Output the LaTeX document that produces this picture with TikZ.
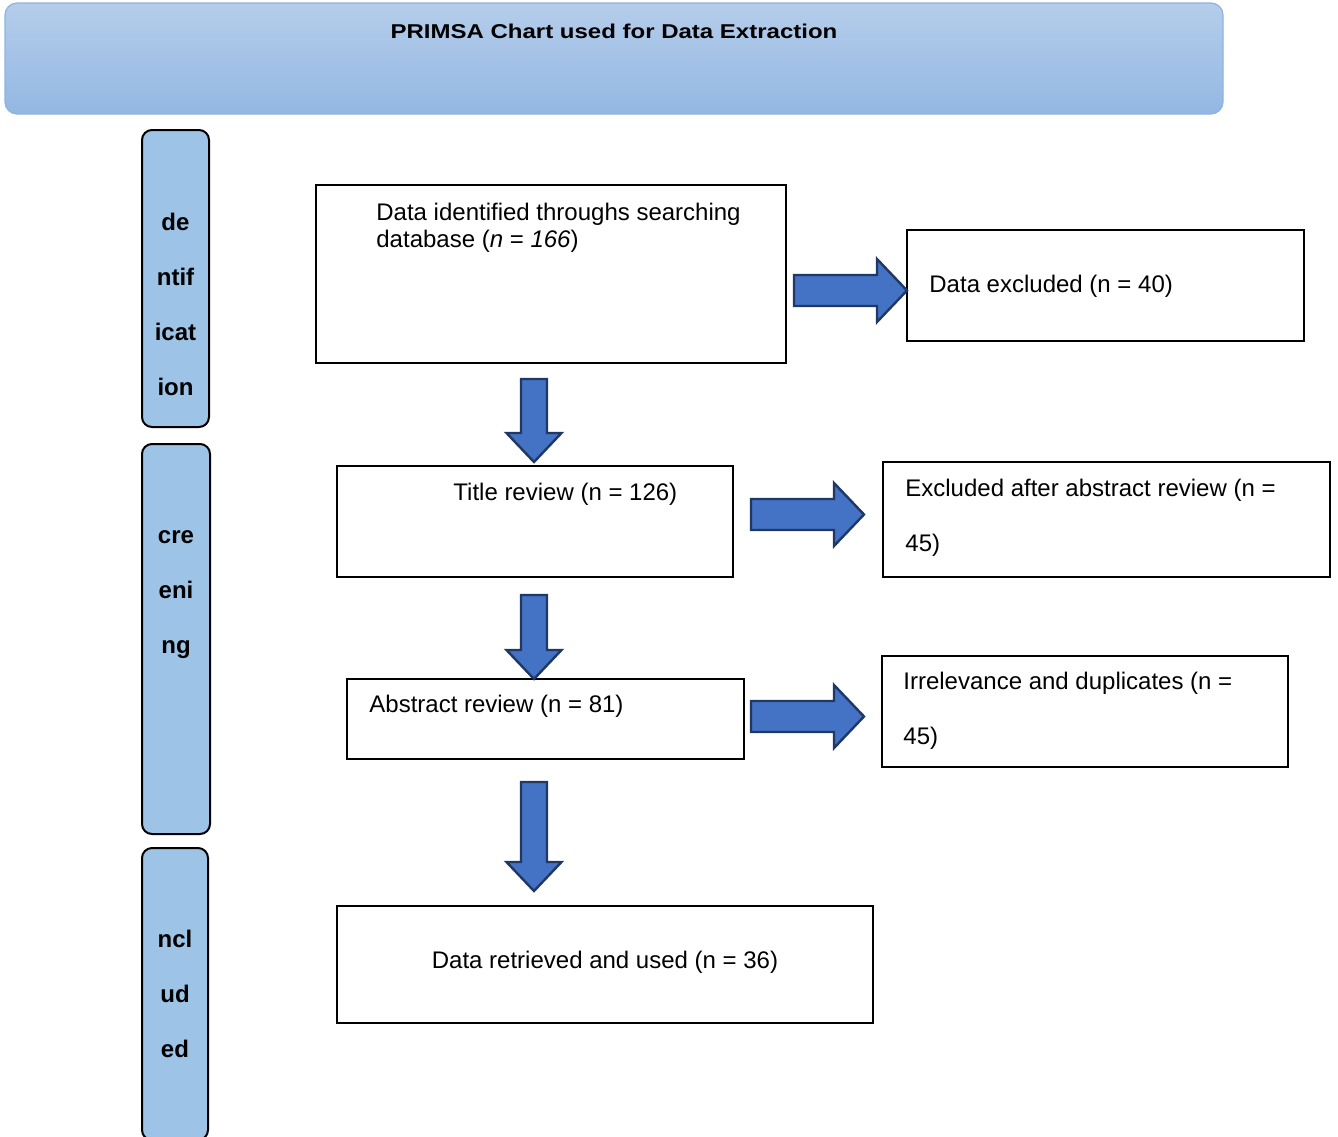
\documentclass[tikz,border=0pt]{standalone}
\usepackage{fontspec}
\setmainfont{Liberation Sans}
\usepackage{tikz}

\definecolor{arrowblue}{HTML}{4472C4}
\definecolor{arrowedge}{HTML}{1F3864}
\definecolor{sideblue}{HTML}{9DC3E6}
\definecolor{titletop}{HTML}{B5CDEA}
\definecolor{titlebot}{HTML}{93B7E3}
\definecolor{titleedge}{HTML}{8DB3E2}

\begin{document}
\begin{tikzpicture}[x=0.5pt,y=-0.5pt,font=\fontsize{12}{13.5}\selectfont]
        \tikzstyle{titlebox}=[
            draw=titleedge,
            line width=0.6pt,
            rounded corners=6pt,
            top color=titletop,
            bottom color=titlebot,
            inner sep=0pt
        ]
        \tikzstyle{sidebox}=[draw=black, line width=1pt, rounded corners=5pt, fill=sideblue, inner sep=0pt]
        \tikzstyle{sidetext}=[font=\bfseries\fontsize{12}{27.5}\selectfont, align=center, anchor=base, inner sep=0pt]
        \tikzstyle{flowbox}=[draw=black, line width=1pt, inner sep=0pt]
        \tikzstyle{boxtext}=[inner sep=0pt, align=left, anchor=base west]
        \tikzstyle{blockarrow}=[draw=arrowedge, line width=1.2pt, fill=arrowblue, line join=miter]
        \tikzset{
            rarrow/.pic={\draw[blockarrow] (0,-15.5) -- (83,-15.5) -- (83,-31.5) -- (113,0)
                -- (83,31.5) -- (83,15.5) -- (0,15.5) -- cycle;},
            darrow/.pic={\draw[blockarrow] (-13,0) -- (13,0) -- (13,#1) -- (27.5,#1)
                -- (0,#1+29) -- (-27.5,#1) -- (-13,#1) -- cycle;}
        }

        \useasboundingbox (0,0) rectangle (1338,1136);

        % heading
        \node[titlebox, minimum width=609pt, minimum height=55.5pt] (head) at (614,58.5) {};
        \node[font=\bfseries, anchor=base, inner sep=0pt] (headtxt) at (614,38) {\scalebox{1.2}[1]{PRIMSA Chart used for Data Extraction}};

        % stage bars on the left (base = last line)
        \node[sidebox, minimum width=33.5pt, minimum height=148.5pt] (identbar) at (175.5,278.5) {};
        \node[sidetext] (identlbl) at (175.5,395) {de\\ntif\\icat\\ion};
        \node[sidebox, minimum width=34pt, minimum height=195pt] (screenbar) at (176,639) {};
        \node[sidetext] (screenlbl) at (176,653) {cre\\eni\\ng};
        \node[sidebox, minimum width=33pt, minimum height=146pt] (inclbar) at (175,994) {};
        \node[sidetext] (incllbl) at (175,1057) {ncl\\ud\\ed};

        % flow boxes
        \node[flowbox, minimum width=235pt, minimum height=89pt] (found) at (551,274) {};
        \node[boxtext] (foundtxt) at (376,247) {Data identified throughs searching\\database (\textit{n} = \textit{166})};

        \node[flowbox, minimum width=198.5pt, minimum height=55.5pt] (excl) at (1105.5,285.5) {};
        \node[boxtext] (excltxt) at (929,292) {Data excluded (n = 40)};

        \node[flowbox, minimum width=198pt, minimum height=55.5pt] (title) at (535,521.5) {};
        \node[boxtext] (titletxt) at (453,500) {Title review (n = 126)};

        \node[flowbox, minimum width=223.5pt, minimum height=57.5pt] (abexcl) at (1106.5,519.5) {};
        \node[boxtext, font=\fontsize{12}{27.5}\selectfont] (abexcltxt) at (905,551) {Excluded after abstract review (n =\\45)};

        \node[flowbox, minimum width=198.5pt, minimum height=40pt] (abstr) at (545.5,719) {};
        \node[boxtext] (abstrtxt) at (369,712) {Abstract review (n = 81)};

        \node[flowbox, minimum width=203pt, minimum height=55.5pt] (irrel) at (1085,711.5) {};
        \node[boxtext, font=\fontsize{12}{27.5}\selectfont] (irreltxt) at (903,744) {Irrelevance and duplicates (n =\\45)};

        \node[flowbox, minimum width=268pt, minimum height=58.5pt] (used) at (605,964.5) {};
        \node[inner sep=0pt, anchor=base] (usedtxt) at (605,968) {Data retrieved and used (n = 36)};

        % block arrows
        \pic at (794,290.5) {rarrow};
        \pic at (751,514.5) {rarrow};
        \pic at (751,716.5) {rarrow};
        \pic at (534,379) {darrow=54};
        \pic at (534,595) {darrow=55};
        \pic at (534,782) {darrow=80};

    \end{tikzpicture}
\end{document}
